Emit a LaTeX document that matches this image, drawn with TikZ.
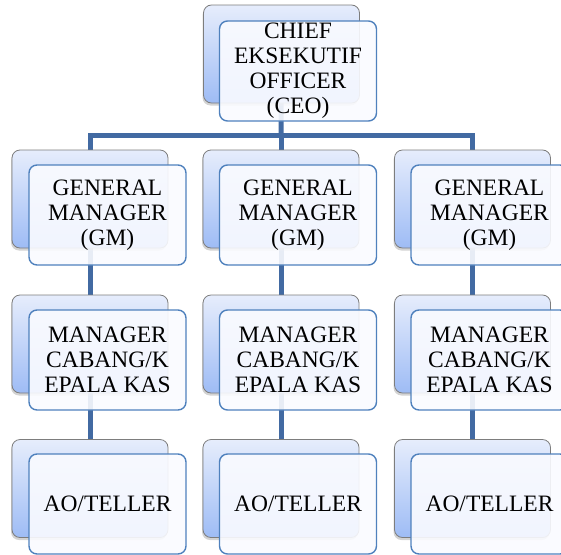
\documentclass[tikz,border=0pt]{standalone}
\usepackage{fontspec}
\setmainfont{Liberation Serif}
\usetikzlibrary{shadows,backgrounds}
\definecolor{conncol}{RGB}{66,106,162}
\definecolor{frontline}{RGB}{79,129,189}
\definecolor{backtop}{RGB}{230,237,252}
\definecolor{backbot}{RGB}{158,188,245}
\definecolor{backline}{RGB}{125,125,125}
\definecolor{frontfill}{RGB}{250,251,255}
\tikzset{
  conn/.style={draw=conncol, line width=5pt, line join=miter},
  backbox/.style={draw=backline, line width=0.8pt, rounded corners=8pt,
    top color=backtop, bottom color=backbot,
    minimum width=156pt, minimum height=98pt, inner sep=0pt,
    drop shadow={opacity=0.35, shadow xshift=-1pt, shadow yshift=-2.5pt}},
  frontbox/.style={draw=frontline, line width=1.4pt, rounded corners=8pt,
    fill=frontfill, fill opacity=0.9, text opacity=1,
    minimum width=157pt, minimum height=100pt, inner sep=0pt,
    align=center, font=\fontsize{23.5}{25}\selectfont}
}
\begin{document}
\begin{tikzpicture}[x=1pt, y=-1pt]
\clip (0,0) rectangle (561,554);
% back boxes
\node[backbox] (ceob) at (281.5,54) {};
\node[backbox] (gm1b) at (90,199) {};
\node[backbox] (gm2b) at (281,199) {};
\node[backbox] (gm3b) at (472.5,199) {};
\node[backbox] (mc1b) at (90,344) {};
\node[backbox] (mc2b) at (281,344) {};
\node[backbox] (mc3b) at (472.5,344) {};
\node[backbox] (ao1b) at (90,488.5) {};
\node[backbox] (ao2b) at (281,488.5) {};
\node[backbox] (ao3b) at (472.5,488.5) {};
\coordinate (bar) at (281,135.5);
% front boxes
\node[frontbox] (ceo) at (298,71) {CHIEF\\EKSEKUTIF\\OFFICER\\(CEO)};
\node[frontbox] (gm1) at (107.5,215) {GENERAL\\MANAGER\\(GM)};
\node[frontbox] (gm2) at (298,215) {GENERAL\\MANAGER\\(GM)};
\node[frontbox] (gm3) at (489.5,215) {GENERAL\\MANAGER\\(GM)};
\node[frontbox] (mc1) at (107.5,360) {MANAGER\\CABANG/K\\EPALA KAS};
\node[frontbox] (mc2) at (298,360) {MANAGER\\CABANG/K\\EPALA KAS};
\node[frontbox] (mc3) at (489.5,360) {MANAGER\\CABANG/K\\EPALA KAS};
\node[frontbox] (ao1) at (107.5,504) {AO/TELLER};
\node[frontbox] (ao2) at (298,504) {AO/TELLER};
\node[frontbox] (ao3) at (489.5,504) {AO/TELLER};
% connectors (behind boxes)
\begin{scope}[on background layer]
\draw[conn] (ceob.center) -- (bar);
\draw[conn] (gm1b.center) |- (bar) -| (gm3b.center);
\draw[conn] (bar) -- (gm2b.center);
\draw[conn] (gm1b.center) -- (mc1b.center);
\draw[conn] (gm2b.center) -- (mc2b.center);
\draw[conn] (gm3b.center) -- (mc3b.center);
\draw[conn] (mc1b.center) -- (ao1b.center);
\draw[conn] (mc2b.center) -- (ao2b.center);
\draw[conn] (mc3b.center) -- (ao3b.center);
\end{scope}
\end{tikzpicture}
\end{document}
